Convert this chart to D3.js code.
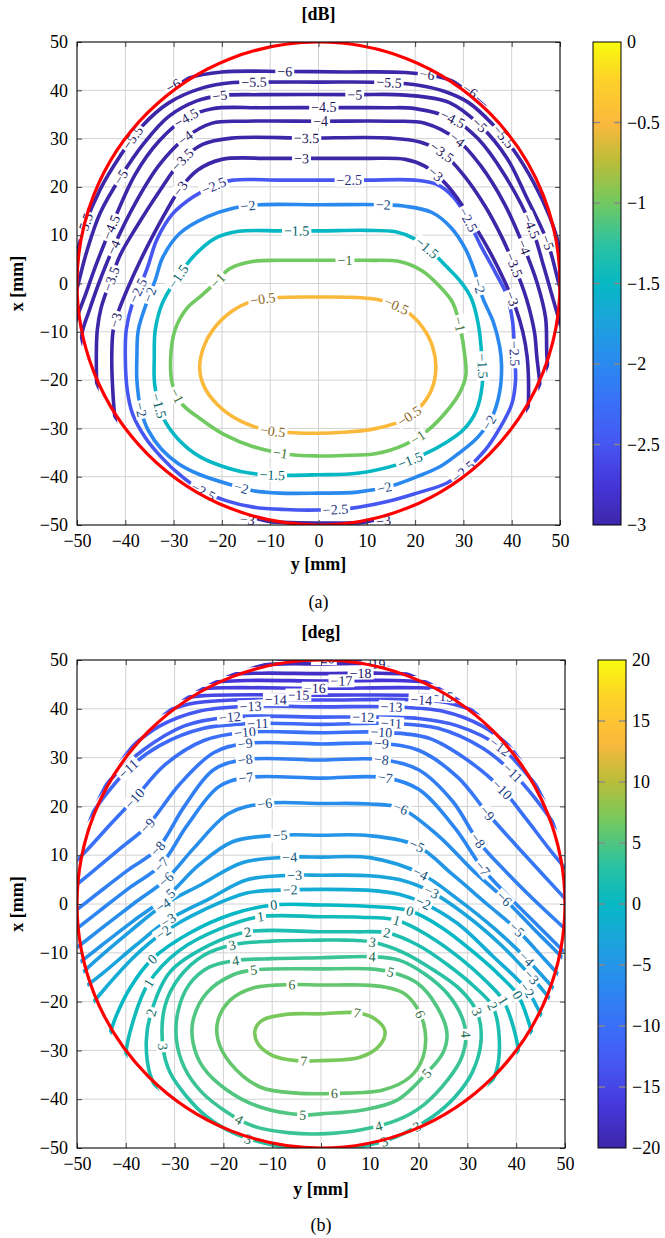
<!DOCTYPE html>
<html>
<head>
<meta charset="utf-8">
<script src="https://cdn.jsdelivr.net/npm/d3@7"></script>
<style>
  body { margin: 0; background: #fff; }
  svg, svg text { font-family: "Liberation Serif", "Times New Roman", "DejaVu Serif", serif !important; }
</style>
</head>
<body>
<svg id="fig" width="665" height="1238" font-family="Liberation Serif, serif"></svg>
<script>
// ---- values ----
const axisTicks = [-50, -40, -30, -20, -10, 0, 10, 20, 30, 40, 50];
const dbBarTicks = [0, -0.5, -1, -1.5, -2, -2.5, -3];
const degBarTicks = [20, 15, 10, 5, 0, -5, -10, -15, -20];

// contour lines: [level, closed, [[y, x], ...]] in mm (y = horizontal, x = vertical)
const dbLines = [
  [-0.5, true, [[0,-2.8],[8,-2.9],[13,-3.5],[18,-5.6],[21.5,-9],[23.6,-13],[24.3,-17.5],[23.4,-22],[21,-25.6],[17,-28.5],[11,-30.2],[5,-30.8],[0,-31],[-5,-30.9],[-11,-30.3],[-16.3,-28.4],[-20.8,-25.2],[-23.7,-21.3],[-24.6,-17.5],[-23.8,-13.2],[-21.8,-9.5],[-18,-5.8],[-13.5,-3.6],[-8,-2.9]]],
  [-1, true, [[0,4.8],[10,4.8],[17,4.5],[21.5,2.6],[25,-0.5],[27.8,-4],[29.3,-9],[30.3,-15],[30.5,-19],[29.3,-22.5],[26.5,-26.5],[22.5,-30.5],[18,-33.3],[12,-35.2],[5,-35.6],[0,-35.7],[-6,-35.4],[-13.5,-33.8],[-19.5,-31.3],[-24.5,-28],[-28.2,-25],[-30.2,-21],[-30.6,-15.2],[-29.7,-9.6],[-27.3,-5.2],[-24,-2.3],[-21,0.5],[-18.5,3],[-14,4.5],[-8,4.8]]],
  [-1.5, true, [[0,10.9],[10,11],[16,10.7],[20,9.2],[23.5,6.5],[26.5,3.5],[29.5,0.3],[31.6,-3],[33,-8],[33.8,-15],[33.9,-21],[32.6,-26.5],[30,-30.3],[26.6,-32.8],[21.6,-35.5],[16,-37.6],[8,-39.3],[0,-39.6],[-8,-39.7],[-14,-39.3],[-18.5,-38.3],[-24.5,-35.9],[-29,-32.3],[-32.3,-27.5],[-33.9,-21],[-34,-15.2],[-33.8,-9.6],[-32.3,-4],[-29.5,0.8],[-26,5.5],[-21.5,9.3],[-16.5,10.8],[-8,10.9]]],
  [-2, true, [[0,16.3],[13.4,16.3],[18,16],[23.5,14.7],[27.5,11.5],[30.5,7],[32.5,2],[34,-3],[36.2,-8],[37.5,-13],[37.9,-17],[37.5,-22.5],[36,-27.5],[33,-31.8],[29,-35.2],[25.2,-37.9],[20.4,-40],[14.8,-42],[8,-43.2],[0,-43.4],[-8,-43.4],[-13.5,-42.9],[-18,-41.7],[-24.5,-39.6],[-29,-37.3],[-32.5,-34.3],[-35.3,-30.3],[-36.8,-26],[-37.6,-20],[-37.6,-15.2],[-37.3,-9.6],[-35.4,-3.5],[-33.8,0.7],[-32.2,5.5],[-28.7,10.4],[-23.1,13.8],[-17.7,15.6],[-12,16.3]]],
  [-2.5, true, [[0,21.4],[10,21.4],[20,21.4],[24.5,20.5],[28,17.8],[30.8,13.5],[33.5,8],[36.5,2.5],[39,-2.5],[40.2,-8],[40.6,-15],[40.8,-20],[40,-25],[37.5,-30],[34.5,-34.5],[30.5,-38.5],[26.6,-41.3],[20,-43.5],[14,-45.2],[7,-46.5],[0,-46.9],[-7,-46.8],[-13.5,-46.3],[-19,-45],[-24,-43],[-28.5,-39.8],[-32.5,-36],[-35.8,-32],[-38.5,-27],[-39.6,-22],[-40,-15.2],[-39.8,-9.6],[-38.5,-4],[-36.5,0.5],[-35.3,3.6],[-33.5,9],[-30.3,14.3],[-26,17.9],[-21.7,20.2],[-17.7,21.4],[-8,21.4]]],
  [-3, false, [[-41,-36],[-42.1,-28.3],[-42.6,-22],[-42.8,-15.2],[-42.5,-9.6],[-41.5,-6],[-39.5,-1],[-37,4.5],[-34.5,9.5],[-31.5,15],[-28.6,19.7],[-25,23.5],[-20,25.7],[-10,25.9],[0,25.9],[10,25.9],[18,25.7],[22,24.3],[25.5,21.5],[28.5,18],[32,12.5],[35.5,6.5],[38.5,0.5],[40.8,-5],[42.3,-10],[43.2,-15.2],[43.5,-22],[43.2,-29],[42.5,-36]]],
  [-3, false, [[-30,-44],[-22,-47.5],[-12,-49.2],[0,-49.6],[12,-49.3],[22,-47.5],[30,-44]]],
  [-3.5, false, [[-45,-34],[-45.7,-28],[-45.9,-22],[-46,-15.2],[-45.8,-9.6],[-45,-5],[-43,0.8],[-41,6],[-37.5,12],[-33,19],[-28.3,25.5],[-24,28.8],[-18,30.1],[-2.5,30.1],[15,30.1],[21,29.3],[25.5,27.2],[30,22.5],[34.5,16],[38,9.5],[40.5,3.8],[43,-3],[44.7,-10],[45.2,-15.2],[45.9,-22],[45.7,-30]]],
  [-4, false, [[-51,-20],[-49.5,-14],[-48.8,-9.6],[-47.6,-6],[-45.5,0],[-42.4,7.6],[-38,16.5],[-33,24.5],[-27.5,30.2],[-22,33.2],[-15,33.6],[0.5,33.6],[15,33.6],[22,33.2],[28.7,29.8],[33.5,24.5],[38.5,16.5],[42.5,7.6],[45.3,0],[47,-7],[47.3,-15.2],[48,-22]]],
  [-4.5, false, [[-51.5,-12],[-50,-7],[-48.5,-3],[-46,4],[-43,11.5],[-38,22.5],[-33,29.5],[-27.5,34.2],[-22,36.2],[-12,36.4],[1,36.4],[14,36.4],[20,36.2],[27.9,34],[33,30],[38.5,22.5],[44,12],[46.5,4],[48.5,-3],[50.5,-10]]],
  [-5, false, [[-51,-8],[-50.4,-3],[-49.4,1.3],[-47.9,6.9],[-45.2,14.6],[-41,22],[-36,29.2],[-31,34.6],[-25.2,37.8],[-20.4,38.9],[-12,39.1],[7.5,39.1],[18,39],[27,37.5],[33.4,32.8],[39,26],[43,18],[47.4,8.6],[49.5,1],[50.8,-4]]],
  [-5.5, false, [[-51.2,-2],[-50.8,2],[-49.8,7],[-48.4,12],[-45.2,19.5],[-41,26.5],[-36.5,32.6],[-31,37.4],[-24,40.5],[-17.7,41.6],[-13.5,41.7],[0,41.7],[14.5,41.6],[21,41],[26,39.8],[31,37.5],[36,33],[40.5,27.5],[44.5,21],[47.8,14],[49.8,8],[51,2]]],
  [-6, false, [[-36,37],[-32,39.8],[-27,42.5],[-20,43.8],[-7,43.9],[5,43.8],[18,43.7],[24,43],[28,41.8],[31.5,39.8],[35,37]]]
];

// label anchors: [level, y, x]
const dbLabels = [
  [-0.5,-11.5,-3.3],[-0.5,15.6,-5.5],[-0.5,-9.5,-30.5],[-0.5,18.6,-27],
  [-1,5.4,4.8],[-1,-21.4,1],[-1,-29.6,-23.4],[-1,28.8,-8.5],[-1,20.8,-32.3],[-1,-7.9,-35.5],
  [-1.5,-4.5,10.9],[-1.5,-29,1.5],[-1.5,-33.2,-25.5],[-1.5,-9.5,-39.7],[-1.5,19,-36.5],[-1.5,22.4,7.5],[-1.5,33.8,-17.2],
  [-2,-14.5,16.3],[-2,13.4,16.3],[-2,-34.4,-2.5],[-2,-36.5,-26],[-2,-16,-42.3],[-2,13.5,-42.3],[-2,35.1,-28.7],[-2,33.5,-0.5],
  [-2.5,-21.7,20],[-2.5,6.5,21.4],[-2.5,-37,-1.7],[-2.5,-24,-43],[-2.5,3.5,-46.8],[-2.5,30,-38.8],[-2.5,40.5,-14.5],[-2.5,30.8,13],
  [-3,-3.5,25.9],[-3,-28.6,19.7],[-3,24.1,22.6],[-3,-41.9,-7.6],[-3,40.5,-3],[-3,-14.9,-49.3],[-3,13.6,-49.3],
  [-3.5,-2.5,30.1],[-3.5,-28.3,25.5],[-3.5,25.5,27.2],[-3.5,-43,0.8],[-3.5,40.5,3.8],
  [-4,0.5,33.6],[-4,-27.5,30.2],[-4,28.7,29.8],[-4,-42.4,7.6],[-4,42.5,7.6],
  [-4.5,1.1,36.4],[-4.5,-27.5,34.2],[-4.5,27.9,34],[-4.5,-43,11.5],[-4.5,44,12],
  [-5,7.5,39.1],[-5,-20.4,38.9],[-5,33.4,32.8],[-5,-41,22],[-5,47.4,8.6],
  [-5.5,-13.5,41.7],[-5.5,14.5,41.6],[-5.5,-39,30.7],[-5.5,38.4,30.3],[-5.5,-48.4,12],
  [-6,-7,43.9],[-6,22.4,43.2],[-6,-30,41],[-6,31,39.5]
];

const degLines = [
  [-20, false, [[-12,50.1],[0,50.3],[12,50.1]]],
  [-19, false, [[-17,48.7],[-8,49.2],[0,49.2],[8,49.3],[17,48.9]]],
  [-18, false, [[-22,47],[-12,47.3],[0,47.2],[12,47.3],[22,47]]],
  [-17, false, [[-25,45.3],[-15,45.8],[0,45.7],[15,45.8],[25,45.3]]],
  [-16, false, [[-28,43.8],[-20,44.3],[0,44.2],[20,44.3],[28,43.8]]],
  [-15, false, [[-31,41.8],[-24,42.7],[0,42.8],[24.8,42.6],[31,41.8]]],
  [-14, false, [[-34,38.6],[-27,41],[-18,41.8],[0,41.8],[20.7,41.8],[27,41],[34,38.6]]],
  [-13, false, [[-44,27],[-39.1,32],[-33,36.5],[-25,39.5],[-14.5,40.5],[0,40.4],[14.5,40.4],[25,39.5],[33,36.5],[39.1,32],[44,27]]],
  [-12, false, [[-51,15],[-47,20.5],[-43.2,25.4],[-36.5,31.5],[-28,36.5],[-18.8,38.3],[0,38.3],[8.7,38.3],[20,38],[28,36.5],[36.7,32.2],[43.2,25.4],[47,20.5],[51,15]]],
  [-11, false, [[-53,11],[-48.5,16.5],[-44,22.5],[-39.5,27.7],[-33,32.5],[-24,36],[-12.9,37],[0,36.8],[14.5,37],[24,36],[33,32],[39.4,26.8],[44,21.5],[48.5,15.5],[53,10]]],
  [-10, false, [[-53,6],[-48,11],[-43,16.5],[-38.2,21.6],[-32,28.5],[-24,33.5],[-15.5,35.2],[0,35.1],[12.4,35.2],[22,34],[30,29.5],[37.2,23.4],[42,17.5],[47,11],[52,5]]],
  [-9, false, [[-53,1.5],[-47,6.5],[-41,11.5],[-35.5,16.1],[-29,24.5],[-22,31],[-15.5,32.9],[0,32.8],[12.4,32.9],[20,31.5],[28,26],[34.1,18.6],[40,12],[45.5,6],[51,0]]],
  [-8, false, [[-53,-3.5],[-46,2],[-39.5,7],[-33.5,11.3],[-28,20],[-22,27.5],[-15.6,29.6],[0,29.5],[12.4,29.6],[20,27.5],[27,21],[32.2,12.9],[38,6.5],[44,0.5],[51,-6]]],
  [-7, false, [[-52.5,-7],[-45.5,-1.5],[-39,3.5],[-32.8,8],[-27.5,16],[-21,24],[-15.3,25.9],[0,25.8],[13,25.9],[20,23.5],[27.5,15.5],[33.1,7.3],[38.5,1.5],[44.5,-4.5],[51,-11]]],
  [-6, false, [[-52,-10.5],[-45,-5],[-38.5,0],[-31.8,5],[-26,11.5],[-19,18.5],[-11.5,20.6],[0,20.6],[10,20.5],[16.2,19.7],[24,14],[31,7],[37.6,1],[43.5,-5],[49.5,-11],[53,-14.5]]],
  [-5, false, [[-52,-14],[-45,-8.5],[-38.5,-3.5],[-31.5,1.6],[-25,8],[-18,12.8],[-8.5,14.1],[0,14.1],[10,14],[19.7,11.9],[27,6],[34,0],[40.2,-5.3],[45.5,-11],[51,-17]]],
  [-4, false, [[-52,-17],[-45.5,-11],[-39,-5.5],[-32.3,-0.2],[-24.5,4],[-16,8.5],[-6.4,9.6],[0,9.6],[10,9.5],[20.5,6.2],[28,1],[35.5,-5],[42.2,-11.3],[46.5,-16],[51,-21]]],
  [-3, false, [[-51,-19],[-44.5,-14],[-38,-8.5],[-31.3,-3.3],[-23,1],[-15,5],[-5.5,5.9],[0,5.9],[10,5.8],[16,5],[22.6,2.5],[30,-2.5],[37,-8.5],[43.2,-15],[47,-19.5],[51,-24]]],
  [-2, false, [[-49,-23],[-44,-17],[-38.5,-11],[-32.4,-5.9],[-24,-1.2],[-15,2.3],[-6.4,2.9],[0,3],[10,2.8],[16,2],[21,0.2],[28,-4],[35,-10.5],[42.2,-17.6],[45,-22.5],[48,-28]]],
  [0, false, [[-44,-29],[-42,-23],[-39,-17],[-34.6,-11.3],[-27,-6],[-18,-2],[-9.6,-0.2],[0,-0.2],[10,-0.5],[18.2,-1.4],[25,-5],[32,-10.5],[37,-15],[40.3,-18.6],[42.5,-24],[44,-30]]],
  [1, false, [[-39,-38],[-40,-31],[-38.5,-24],[-35.4,-16.3],[-29,-9.5],[-20,-4.8],[-12.5,-2.6],[0,-2.6],[8,-2.7],[15.4,-3.3],[22,-6.5],[29,-11.5],[34,-16],[37.3,-19.7],[39.5,-25.5],[40.5,-31],[39.5,-37]]],
  [2, false, [[-32,-41],[-35,-35],[-35.8,-28],[-34.8,-22.2],[-31,-14],[-23,-8.5],[-15,-5.7],[0,-5.7],[7,-5.7],[13.5,-5.9],[20,-8.5],[26,-12.5],[31.5,-17],[35.2,-21],[36.5,-27],[36,-34],[33,-40]]],
  [3, true, [[0,-7.4],[5,-7.4],[10.4,-7.8],[17,-10],[23,-13.5],[28.5,-17.5],[32,-22.2],[32.8,-28],[31,-34.5],[27.5,-39.5],[23,-43.5],[17,-47],[10,-49.5],[0,-50.3],[-10,-49.5],[-17.6,-47.1],[-23.4,-43.6],[-27.5,-39.5],[-30.9,-34.6],[-32.4,-29.2],[-32,-21],[-29,-15],[-24,-10.5],[-18.2,-8.4],[-10,-7.6]]],
  [4, true, [[0,-11],[10.5,-10.8],[16,-11.5],[21.5,-14.5],[26,-18.5],[28.8,-23],[29.7,-27],[28.8,-31.5],[26,-36],[21,-41.2],[15.6,-44.3],[8,-46.3],[0,-47.1],[-6.4,-46.9],[-13.9,-45.5],[-19.5,-42.5],[-24.5,-38.5],[-28,-33.5],[-29.6,-28],[-29.3,-22],[-27,-16.5],[-23,-13],[-17.6,-11.6],[-10,-11.2]]],
  [5, true, [[0,-13.3],[10,-13.3],[14.1,-13.9],[19.7,-16.2],[23.8,-21.1],[25.8,-26.4],[25,-30.5],[21.7,-34.6],[15.6,-40.2],[8.6,-42.2],[0,-43],[-3.8,-43.2],[-12.5,-41.6],[-19.3,-38.1],[-24.2,-33.4],[-26.2,-28.5],[-26.2,-23.8],[-23.4,-18.2],[-18,-14.5],[-13.7,-13.5]]],
  [6, true, [[-5.8,-16.5],[0,-16.6],[8,-16.6],[13,-17],[16.8,-18.2],[19.5,-21],[21.3,-25.8],[20.9,-31.4],[18.2,-35.5],[12.7,-38.1],[3,-38.8],[-4.3,-38.8],[-12.5,-37.5],[-18.6,-32.6],[-21.1,-27.9],[-21.1,-23.8],[-18.6,-19.7],[-13.9,-17.2]]],
  [7, true, [[0,-22.5],[7.4,-22.3],[11,-23.5],[13.1,-26],[12,-29],[8,-31.4],[0,-32.1],[-5,-32.1],[-10,-31],[-13,-28.5],[-13.5,-25.8],[-12,-23.8],[-7,-22.6]]]
];

const degLabels = [
  [-20,0.5,50.2],[-19,11,49.3],[-18,8,47.3],[-17,4.3,45.7],[-16,-1.4,44.2],[-15,-4.6,42.8],[-15,24.8,42.6],
  [-14,-9.2,41.8],[-14,20.7,41.8],[-13,-14.5,40.5],[-13,14.5,40.4],[-12,-18.8,38.3],[-12,8.7,38.3],[-12,36.7,32.2],
  [-11,-12.9,37],[-11,14.5,37],[-11,-39.5,27.7],[-11,39.4,26.8],
  [-10,-15.5,35.2],[-10,12.4,35.2],[-10,-38.2,21.6],[-10,37.2,23.4],
  [-9,-15.5,32.9],[-9,12.4,32.9],[-9,-35.5,16.1],[-9,34.1,18.6],
  [-8,-15.6,29.6],[-8,12.4,29.6],[-8,-33.5,11.3],[-8,32.2,12.9],
  [-7,-15.3,25.9],[-7,13,25.9],[-7,-32.8,8],[-7,33.1,7.3],
  [-6,-11.5,20.6],[-6,16.2,19.7],[-6,-31.8,5],[-6,37.6,1],
  [-5,-8.5,14.1],[-5,19.7,11.9],[-5,-31.5,1.6],[-5,40.2,-5.3],
  [-4,-6.4,9.6],[-4,20.5,6.2],[-4,-32.3,-0.2],[-4,42.2,-11.3],
  [-3,-5.5,5.9],[-3,22.6,2.5],[-3,-31.3,-3.3],[-3,43.2,-15],
  [-2,-6.4,2.9],[-2,21,0.2],[-2,-32.4,-5.9],[-2,42.2,-17.6],
  [0,-9.6,-0.2],[0,18.2,-1.4],[0,-34.6,-11.3],[0,40.3,-18.6],
  [1,-12.5,-2.6],[1,15.4,-3.3],[1,-35.4,-16.3],[1,37.3,-19.7],
  [2,-15,-5.7],[2,13.5,-5.9],[2,-34.8,-22.2],[2,35.2,-21],
  [3,-18.2,-8.4],[3,10.4,-7.8],[3,-32.4,-29.2],[3,32,-22.2],[3,-15,-48.5],[3,13,-49],[3,20,-46],
  [4,-17.6,-11.6],[4,10.5,-10.8],[4,29.6,-26.8],[4,-17,-44.3],[4,11.9,-46],
  [5,-13.7,-13.5],[5,14.1,-13.9],[5,21.7,-34.6],[5,-3.8,-43.2],
  [6,-5.8,-16.6],[6,20.3,-22.5],[6,2.8,-38.8],
  [7,7.4,-22.4],[7,-3.6,-32]
];

// parula-like colour map (positions / colours)
const cmapPos = [0, 0.08, 0.17, 0.25, 0.33, 0.42, 0.5, 0.58, 0.67, 0.75, 0.83, 0.92, 1];
const cmapCol = ["#3e26a8","#4535d8","#4657f2","#3a6ff8","#2b88f0","#1ca3dd","#06b8c4","#2bc2a2","#74c95e","#b8bd3a","#fbb83d","#fdd129","#f9fb0e"];

// ---- drawing ----
const SERIF = '"Liberation Serif", "Times New Roman", "DejaVu Serif", serif';
const CLIP_R = 50.7;   // contour data stops just outside the measured circle
const svg = d3.select("#fig");
const defs = svg.append("defs");
const cmap = d3.scaleLinear().domain(cmapPos).range(cmapCol).interpolate(d3.interpolateRgb).clamp(true);
const fmt = n => (n < 0 ? "\u2212" : "") + Math.abs(n);
const FS = 18;

const grad = defs.append("linearGradient").attr("id", "parula")
  .attr("x1", 0).attr("y1", 1).attr("x2", 0).attr("y2", 0);
grad.selectAll("stop").data(cmapPos).join("stop")
  .attr("offset", d => d).attr("stop-color", (d, i) => cmapCol[i]);

function drawPanel(cfg, lines, labels) {
  const x = d3.scaleLinear().domain([-50, 50]).range([cfg.x0, cfg.x1]);
  const y = d3.scaleLinear().domain([-50, 50]).range([cfg.y1, cfg.y0]);
  const colorOf = L => cmap((L - cfg.cmin) / (cfg.cmax - cfg.cmin));
  const g = svg.append("g").style("font-family", SERIF);

  defs.append("clipPath").attr("id", cfg.id + "-box").append("rect")
    .attr("x", cfg.x0).attr("y", cfg.y0).attr("width", cfg.x1 - cfg.x0).attr("height", cfg.y1 - cfg.y0);
  defs.append("clipPath").attr("id", cfg.id + "-disk").append("circle")
    .attr("cx", x(0)).attr("cy", y(0)).attr("r", x(CLIP_R) - x(0));

  // grid
  const grid = g.append("g").attr("stroke", "#d2d2d2").attr("stroke-width", 1);
  grid.selectAll(".gv").data(axisTicks).join("line")
    .attr("x1", d => x(d)).attr("x2", d => x(d)).attr("y1", cfg.y0).attr("y2", cfg.y1);
  grid.selectAll(".gh").data(axisTicks).join("line")
    .attr("y1", d => y(d)).attr("y2", d => y(d)).attr("x1", cfg.x0).attr("x2", cfg.x1);

  // contours
  const box = g.append("g").attr("clip-path", `url(#${cfg.id}-box)`);
  const disk = box.append("g").attr("clip-path", `url(#${cfg.id}-disk)`);
  const lineOpen = d3.line().x(d => x(d[0])).y(d => y(d[1])).curve(d3.curveCatmullRom.alpha(0.5));
  const lineClosed = d3.line().x(d => x(d[0])).y(d => y(d[1])).curve(d3.curveCatmullRomClosed.alpha(0.5));
  const paths = disk.selectAll("path").data(lines).join("path")
    .attr("d", d => (d[1] ? lineClosed : lineOpen)(d[2]))
    .attr("fill", "none")
    .attr("stroke", d => colorOf(d[0]))
    .attr("stroke-width", 3.6);

  // sample every path once for label placement
  const samples = [];
  paths.each(function(d) {
    const len = this.getTotalLength(), pts = [];
    for (let s = 0; s <= len; s += 1.5) {
      const p = this.getPointAtLength(s);
      pts.push([p.x, p.y, s]);
    }
    samples.push({ level: d[0], node: this, len, pts });
  });

  const labG = box.append("g");
  labels.forEach(([L, h, v]) => {
    const px = x(h), py = y(v);
    let best = null;
    samples.filter(sm => Math.abs(sm.level - L) < 1e-9).forEach(sm => {
      sm.pts.forEach(p => {
        const dd = (p[0] - px) ** 2 + (p[1] - py) ** 2;
        if (!best || dd < best.dd) best = { dd, p, sm };
      });
    });
    if (!best) return;
    const s = best.p[2];
    const a = best.sm.node.getPointAtLength(Math.max(0, s - 5));
    const b = best.sm.node.getPointAtLength(Math.min(best.sm.len, s + 5));
    let ang = Math.atan2(b.y - a.y, b.x - a.x) * 180 / Math.PI;
    if (ang > 90) ang -= 180;
    if (ang < -90) ang += 180;
    const c = colorOf(L);
    const lg = labG.append("g")
      .attr("transform", `translate(${best.p[0]},${best.p[1]}) rotate(${ang})`);
    const t = lg.append("text").text(fmt(L))
      .attr("text-anchor", "middle").attr("dy", "0.34em")
      .attr("font-family", SERIF)
      .attr("font-size", 14).attr("fill", d3.interpolateRgb(c, "#000")(0.45));
    const bb = t.node().getBBox();
    lg.insert("rect", "text").attr("x", bb.x - 2).attr("y", -6.5)
      .attr("width", bb.width + 4).attr("height", 13).attr("fill", "#fff");
  });

  // red circle
  box.append("circle").attr("cx", x(0)).attr("cy", y(0)).attr("r", x(50) - x(0))
    .attr("fill", "none").attr("stroke", "#ff0000").attr("stroke-width", 3.2);

  // axes (inner ticks on all sides)
  const styleAxis = sel => {
    sel.attr("font-family", SERIF);
    sel.select(".domain").remove();
    sel.selectAll(".tick line").attr("stroke", "#444");
    sel.selectAll(".tick text").attr("font-size", FS).attr("fill", "#000")
      .attr("font-family", SERIF);
  };
  g.append("g").attr("transform", `translate(0,${cfg.y1})`)
    .call(d3.axisBottom(x).tickValues(axisTicks).tickSizeInner(-5).tickSizeOuter(0).tickPadding(9).tickFormat(fmt))
    .call(styleAxis);
  g.append("g").attr("transform", `translate(0,${cfg.y0})`)
    .call(d3.axisTop(x).tickValues(axisTicks).tickSizeInner(-5).tickSizeOuter(0).tickFormat(""))
    .call(styleAxis);
  g.append("g").attr("transform", `translate(${cfg.x0},0)`)
    .call(d3.axisLeft(y).tickValues(axisTicks).tickSizeInner(-5).tickSizeOuter(0).tickPadding(9).tickFormat(fmt))
    .call(styleAxis);
  g.append("g").attr("transform", `translate(${cfg.x1},0)`)
    .call(d3.axisRight(y).tickValues(axisTicks).tickSizeInner(-5).tickSizeOuter(0).tickFormat(""))
    .call(styleAxis);
  g.append("rect").attr("x", cfg.x0).attr("y", cfg.y0)
    .attr("width", cfg.x1 - cfg.x0).attr("height", cfg.y1 - cfg.y0)
    .attr("fill", "none").attr("stroke", "#000").attr("stroke-width", 1);

  // axis titles
  const txt = (sel) => sel.attr("font-family", SERIF).attr("font-size", FS).attr("fill", "#000");
  g.append("text").attr("x", x(0)).attr("y", cfg.titleY).attr("text-anchor", "middle")
    .call(txt).attr("font-weight", "bold").text(cfg.title);
  g.append("text").attr("x", x(0)).attr("y", cfg.xlabY).attr("text-anchor", "middle")
    .call(txt).attr("font-weight", "bold").text("y [mm]");
  g.append("text").attr("transform", `translate(23,${y(0)}) rotate(-90)`).attr("text-anchor", "middle")
    .call(txt).attr("font-weight", "bold").text("x [mm]");
  g.append("text").attr("x", x(0)).attr("y", cfg.capY).attr("text-anchor", "middle")
    .call(txt).text(cfg.caption);

  // colour bar
  const cb = d3.scaleLinear().domain([cfg.cmin, cfg.cmax]).range([cfg.y1, cfg.y0]);
  g.append("rect").attr("x", cfg.cbX).attr("y", cfg.y0).attr("width", cfg.cbW)
    .attr("height", cfg.y1 - cfg.y0).attr("fill", "url(#parula)");
  const cbt = g.append("g");
  cbt.selectAll(".tl").data(cfg.barTicks.slice(1, -1)).join("line")
    .attr("x1", cfg.cbX).attr("x2", cfg.cbX + 7).attr("y1", d => cb(d)).attr("y2", d => cb(d))
    .attr("stroke", "#888").attr("stroke-width", 1.4);
  cbt.selectAll(".tr").data(cfg.barTicks.slice(1, -1)).join("line")
    .attr("x1", cfg.cbX + cfg.cbW - 7).attr("x2", cfg.cbX + cfg.cbW).attr("y1", d => cb(d)).attr("y2", d => cb(d))
    .attr("stroke", "#888").attr("stroke-width", 1.4);
  g.append("rect").attr("x", cfg.cbX).attr("y", cfg.y0).attr("width", cfg.cbW)
    .attr("height", cfg.y1 - cfg.y0).attr("fill", "none").attr("stroke", "#000").attr("stroke-width", 1);
  cbt.selectAll("text").data(cfg.barTicks).join("text")
    .attr("x", cfg.cbX + cfg.cbW + 6).attr("y", d => cb(d)).attr("dy", "0.34em")
    .call(txt).text(fmt);
}

drawPanel({ id: "a", x0: 77, x1: 560, y0: 42, y1: 525, cmin: -3, cmax: 0,
  cbX: 593, cbW: 28, barTicks: dbBarTicks, title: "[dB]", titleY: 20,
  xlabY: 570, capY: 608, caption: "(a)" }, dbLines, dbLabels);

drawPanel({ id: "b", x0: 77, x1: 565, y0: 660, y1: 1148, cmin: -20, cmax: 20,
  cbX: 598, cbW: 28, barTicks: degBarTicks, title: "[deg]", titleY: 638,
  xlabY: 1195, capY: 1231, caption: "(b)" }, degLines, degLabels);
</script>
</body>
</html>
